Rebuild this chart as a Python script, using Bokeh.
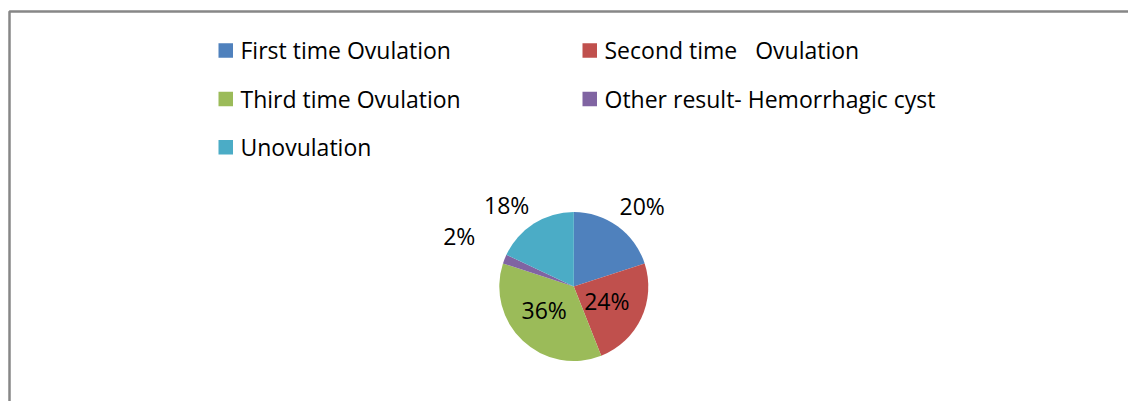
import math
from bokeh.plotting import figure
from bokeh.models import Range1d, ColumnDataSource
from bokeh.core.properties import value
from bokeh.embed import file_html
from bokeh.resources import INLINE

# ---- data ----
categories = ["First time Ovulation", "Second time   Ovulation", "Third time Ovulation",
              "Other result- Hemorrhagic cyst", "Unovulation"]
percent = [20, 24, 36, 2, 18]
colors = ["#4F81BD", "#C0504D", "#9BBB59", "#8064A2", "#4BACC6"]

# ---- layout / style ----
W, H = 1128, 401
FONT = "Open Sans"
FS = 23
CAP = 0.714 * FS
SHIFT = 8.5                              # svg baseline correction (px, upward)
cx, cy, R = 573.3, 286.0, 74.5          # pie centre (screen px) and radius
label_dist = [1.413, 0.483, 0.509, 1.678, 1.417]   # label distance / radius
label_nudge = [4.5, -1.8, 8.1, 2.0, -7.1]          # degrees

def fy(y):
    return H - y

p = figure(width=W, height=H, output_backend="svg", toolbar_location=None,
           x_range=Range1d(0, W), y_range=Range1d(0, H), min_border=0)
p.axis.visible = False
p.grid.visible = False
p.outline_line_color = None
p.background_fill_color = "white"
p.border_fill_color = "white"

# chart-area border (extends beyond the window on right/bottom)
p.quad(left=[9], right=[W + 20], top=[fy(11)], bottom=[-20],
       fill_color=None, line_color="#878787", line_width=2.5)

# pie
total = float(sum(percent))
starts, ends, mids = [], [], []
acc = 0.0
for v in percent:
    a0 = math.pi / 2 - 2 * math.pi * acc / total
    acc += v
    a1 = math.pi / 2 - 2 * math.pi * acc / total
    starts.append(a0)
    ends.append(a1)
    mids.append(360.0 * (acc - v / 2) / total)  # bearing clockwise from top

src = ColumnDataSource(dict(start=starts, end=ends, color=colors))
p.wedge(x=cx, y=fy(cy), radius=R, radius_units="screen",
        start_angle="start", end_angle="end", direction="clock",
        fill_color="color", line_color=None, source=src)

# data labels
lx, ly, lt = [], [], []
for v, m, d, n in zip(percent, mids, label_dist, label_nudge):
    b = math.radians(m + n)
    sx = cx + R * d * math.sin(b)
    sy = cy - R * d * math.cos(b)
    lx.append(sx)
    ly.append(fy(sy + CAP / 2 - SHIFT))
    lt.append(f"{v}%")
p.text(x=lx, y=ly, text=lt, text_font=value(FONT), text_font_size=f"{FS}px",
       text_align="center", text_baseline="alphabetic", text_color="black")

# legend (two columns, three rows)
col_x = [218, 582]
row_base = [58.3, 106.6, 155.0]
sq = 14.5
sqx, sqy, tx, ty, shown = [], [], [], [], []
for i, c in enumerate(categories):
    r, k = divmod(i, 2)
    x0 = col_x[k]
    yb = row_base[r]
    sqx.append(x0 + sq / 2)
    sqy.append(fy(yb - CAP / 2))
    tx.append(x0 + 22)
    ty.append(fy(yb - SHIFT))
    shown.append(c.replace("  ", "\u00a0\u00a0"))
p.rect(x=sqx, y=sqy, width=sq, height=sq, width_units="screen", height_units="screen",
       fill_color=colors, line_color=None)
p.text(x=tx, y=ty, text=shown, text_font=value(FONT), text_font_size=f"{FS}px",
       text_align="left", text_baseline="alphabetic", text_color="black")

open("out.html", "w").write(file_html(p, INLINE))
